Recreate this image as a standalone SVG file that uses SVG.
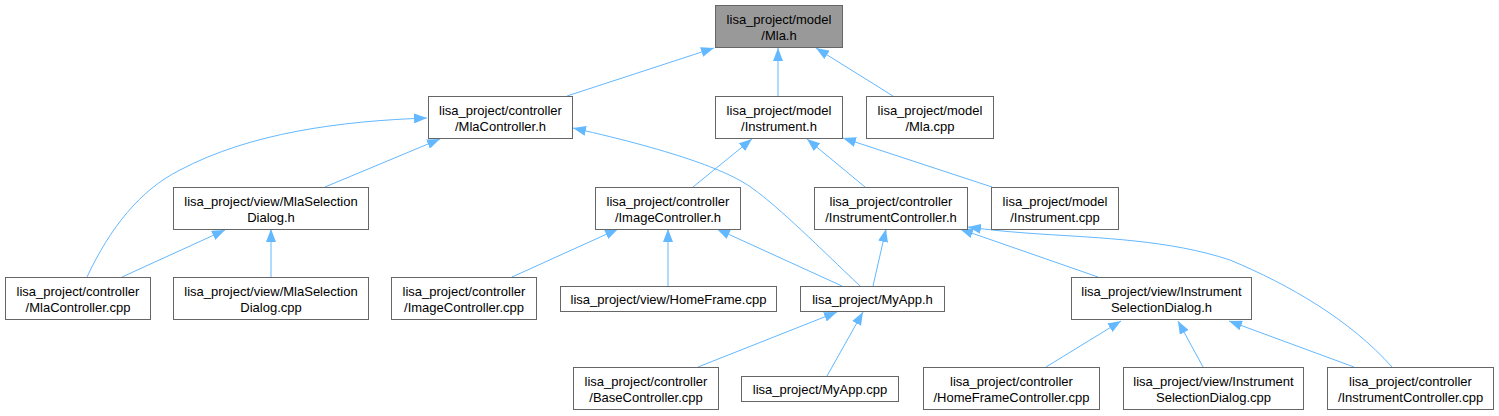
<svg xmlns="http://www.w3.org/2000/svg" width="1499" height="416" viewBox="0 0 1499 416">
<style>
.node rect{fill:#ffffff;stroke:#666666;stroke-width:1}
.node.root rect{fill:#999999}
.node text{font-family:"Liberation Sans",Arial,sans-serif;font-size:13px;fill:#000000;text-anchor:middle}
.edges path{fill:none;stroke:#63b8ff;stroke-width:1;marker-end:url(#ah)}
</style>
<defs>
<marker id="ah" markerWidth="13" markerHeight="10" refX="13" refY="5" orient="auto" markerUnits="userSpaceOnUse">
<path d="M0,0 L13,5 L0,10 z" fill="#63b8ff"/>
</marker>
</defs>
<rect width="1499" height="416" fill="#ffffff"/>
<g id="connectors" class="edges">
<path d="M567,96 L714,48"/>
<path d="M778,96 L778,48"/>
<path d="M893,96 L816,48"/>
<path d="M87,277 C110,228 140,190 180,170 C250,133 340,121 427,118"/>
<path d="M325,187 L440,139"/>
<path d="M860,286 C820,248 780,208 752,188 C730,172 680,152 573,128"/>
<path d="M271,277 L271,229"/>
<path d="M122,277 L225,230"/>
<path d="M693,187 L752,139"/>
<path d="M865,187 L807,139"/>
<path d="M992,187 L843,138"/>
<path d="M512,277 L618,229"/>
<path d="M668,286 L668,229"/>
<path d="M842,286 L717,229"/>
<path d="M873,286 L886,229"/>
<path d="M1098,277 L960,229"/>
<path d="M1392,367 C1350,320 1290,285 1230,260 C1170,240 1100,238 1040,234 C1010,232 990,230 968,227"/>
<path d="M698,367 L837,312"/>
<path d="M827,376 L863,312"/>
<path d="M1046,367 L1121,321"/>
<path d="M1203,367 L1178,321"/>
<path d="M1354,367 L1229,321"/>
</g>
<g id="n_mla_h" class="node root"><rect x="715.5" y="5.5" width="127" height="42"/><text x="779" y="24">lisa_project/model</text><text x="779" y="40">/Mla.h</text></g>
<g id="n_mlacontroller_h" class="node"><rect x="428.5" y="96.5" width="144" height="42"/><text x="500.5" y="115">lisa_project/controller</text><text x="500.5" y="131">/MlaController.h</text></g>
<g id="n_instrument_h" class="node"><rect x="715.5" y="96.5" width="127" height="42"/><text x="779" y="115">lisa_project/model</text><text x="779" y="131">/Instrument.h</text></g>
<g id="n_mla_cpp" class="node"><rect x="866.5" y="96.5" width="127" height="42"/><text x="930" y="115">lisa_project/model</text><text x="930" y="131">/Mla.cpp</text></g>
<g id="n_mlaselectiondialog_h" class="node"><rect x="173.5" y="187.5" width="195" height="42"/><text x="271" y="206">lisa_project/view/MlaSelection</text><text x="271" y="222">Dialog.h</text></g>
<g id="n_imagecontroller_h" class="node"><rect x="595.5" y="187.5" width="145" height="42"/><text x="668" y="206">lisa_project/controller</text><text x="668" y="222">/ImageController.h</text></g>
<g id="n_instrumentcontroller_h" class="node"><rect x="814.5" y="187.5" width="153" height="42"/><text x="891" y="206">lisa_project/controller</text><text x="891" y="222">/InstrumentController.h</text></g>
<g id="n_instrument_cpp" class="node"><rect x="991.5" y="187.5" width="127" height="42"/><text x="1055" y="206">lisa_project/model</text><text x="1055" y="222">/Instrument.cpp</text></g>
<g id="n_mlacontroller_cpp" class="node"><rect x="5.5" y="277.5" width="145" height="42"/><text x="78" y="296">lisa_project/controller</text><text x="78" y="312">/MlaController.cpp</text></g>
<g id="n_mlaselectiondialog_cpp" class="node"><rect x="173.5" y="277.5" width="195" height="42"/><text x="271" y="296">lisa_project/view/MlaSelection</text><text x="271" y="312">Dialog.cpp</text></g>
<g id="n_imagecontroller_cpp" class="node"><rect x="391.5" y="277.5" width="145" height="42"/><text x="464" y="296">lisa_project/controller</text><text x="464" y="312">/ImageController.cpp</text></g>
<g id="n_homeframe_cpp" class="node"><rect x="560.5" y="286.5" width="216" height="25"/><text x="668.5" y="303.5">lisa_project/view/HomeFrame.cpp</text></g>
<g id="n_myapp_h" class="node"><rect x="800.5" y="286.5" width="144" height="25"/><text x="872.5" y="303.5">lisa_project/MyApp.h</text></g>
<g id="n_instrumentselectiondialog_h" class="node"><rect x="1071.5" y="277.5" width="180" height="42"/><text x="1161.5" y="296">lisa_project/view/Instrument</text><text x="1161.5" y="312">SelectionDialog.h</text></g>
<g id="n_basecontroller_cpp" class="node"><rect x="573.5" y="367.5" width="145" height="42"/><text x="646" y="386">lisa_project/controller</text><text x="646" y="402">/BaseController.cpp</text></g>
<g id="n_myapp_cpp" class="node"><rect x="741.5" y="376.5" width="157" height="25"/><text x="820" y="393.5">lisa_project/MyApp.cpp</text></g>
<g id="n_homeframecontroller_cpp" class="node"><rect x="923.5" y="367.5" width="176" height="42"/><text x="1011.5" y="386">lisa_project/controller</text><text x="1011.5" y="402">/HomeFrameController.cpp</text></g>
<g id="n_instrumentselectiondialog_cpp" class="node"><rect x="1123.5" y="367.5" width="180" height="42"/><text x="1213.5" y="386">lisa_project/view/Instrument</text><text x="1213.5" y="402">SelectionDialog.cpp</text></g>
<g id="n_instrumentcontroller_cpp" class="node"><rect x="1327.5" y="367.5" width="166" height="42"/><text x="1410.5" y="386">lisa_project/controller</text><text x="1410.5" y="402">/InstrumentController.cpp</text></g>
</svg>
